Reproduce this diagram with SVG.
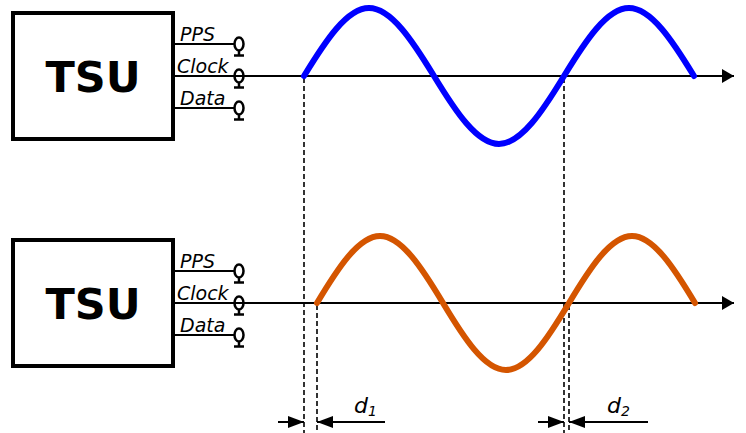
<svg xmlns="http://www.w3.org/2000/svg" width="746" height="433" viewBox="0 0 746 433">
<style>
.box{fill:#fff;stroke:#000;stroke-width:4}
.tsu{font-family:"DejaVu Sans",sans-serif;font-weight:bold;font-size:43px;text-anchor:middle;fill:#000}
.lbl{font-family:"DejaVu Sans",sans-serif;font-style:italic;font-size:19px;fill:#000}
.ln{stroke:#000;stroke-width:2;fill:none}
.term{stroke:#000;stroke-width:2.5;fill:none}
.dash{stroke:#000;stroke-width:1.6;stroke-dasharray:5,3;fill:none}
.wave{fill:none;stroke-width:6;stroke-linecap:round}
.dl{font-family:"DejaVu Sans",sans-serif;font-style:italic;font-size:22px;fill:#000}
.sub{font-size:14px}
</style>
<defs>
<marker id="arr" viewBox="0 0 12 14" refX="12" refY="7" markerWidth="12" markerHeight="14" markerUnits="userSpaceOnUse" orient="auto">
<path d="M0,0 L12,7 L0,14 Z" fill="#000"/>
</marker>
<marker id="arrd" viewBox="0 0 16 12" refX="16" refY="6" markerWidth="16" markerHeight="12" markerUnits="userSpaceOnUse" orient="auto">
<path d="M0,0 L16,6 L0,12 Z" fill="#000"/>
</marker>
<g id="terminal">
<ellipse cx="0" cy="0" rx="4.5" ry="6.5" class="term"/>
<line x1="0" y1="6.5" x2="0" y2="11.5" class="term"/>
<line x1="-5" y1="11.5" x2="5" y2="11.5" class="term"/>
</g>
</defs>

<g id="connectors">
<line x1="174" y1="44" x2="234.5" y2="44" class="ln"/>
<line x1="174" y1="76" x2="734" y2="76" class="ln" marker-end="url(#arr)"/>
<line x1="174" y1="108" x2="234.5" y2="108" class="ln"/>
<line x1="174" y1="271" x2="234.5" y2="271" class="ln"/>
<line x1="174" y1="303" x2="734" y2="303" class="ln" marker-end="url(#arr)"/>
<line x1="174" y1="335" x2="234.5" y2="335" class="ln"/>
<line x1="304" y1="78" x2="304" y2="433" class="dash"/>
<line x1="564" y1="78" x2="564" y2="433" class="dash"/>
<line x1="317" y1="305" x2="317" y2="433" class="dash"/>
<line x1="569" y1="305" x2="569" y2="433" class="dash"/>
<line x1="278" y1="422" x2="304" y2="422" class="ln" marker-end="url(#arrd)"/>
<line x1="385" y1="422" x2="317" y2="422" class="ln" marker-end="url(#arrd)"/>
<line x1="538" y1="422" x2="564" y2="422" class="ln" marker-end="url(#arrd)"/>
<line x1="648" y1="422" x2="569" y2="422" class="ln" marker-end="url(#arrd)"/>
</g>

<g id="tsu1">
<rect x="13" y="13" width="160" height="126" class="box"/>
<text x="93" y="92" class="tsu">TSU</text>
</g>
<g id="tsu1-ports">
<text x="180" y="41" class="lbl">PPS</text>
<text x="177" y="73" class="lbl">Clock</text>
<text x="180" y="105" class="lbl">Data</text>
<use href="#terminal" x="239" y="44"/>
<use href="#terminal" x="239" y="76"/>
<use href="#terminal" x="239" y="108"/>
</g>

<g id="tsu2">
<rect x="13" y="240" width="160" height="126" class="box"/>
<text x="93" y="319" class="tsu">TSU</text>
</g>
<g id="tsu2-ports">
<text x="180" y="268" class="lbl">PPS</text>
<text x="177" y="300" class="lbl">Clock</text>
<text x="180" y="332" class="lbl">Data</text>
<use href="#terminal" x="239" y="271"/>
<use href="#terminal" x="239" y="303"/>
<use href="#terminal" x="239" y="335"/>
</g>

<g id="wave1">
<path class="wave" stroke="#0000ff" d="M304,76 C325.2,41.16 346.9,8 369,8 C391.1,8 412.8,41.16 434,76 C455.2,110.84 476.9,144 499,144 C521.1,144 542.8,110.84 564,76 C585.2,41.16 606.9,8 629,8 C651.1,8 672.8,41.16 694,76"/>
</g>
<g id="wave2">
<path class="wave" stroke="#d45500" d="M317,303 C337.54,268.68 358.57,236 380,236 C401.43,236 422.46,268.68 443,303 C463.54,337.32 484.57,370 506,370 C527.43,370 548.46,337.32 569,303 C589.54,268.68 610.57,236 632,236 C653.43,236 674.46,268.68 695,303"/>
</g>

<g id="d1">
<text x="354" y="413" class="dl">d<tspan class="sub" dy="3">1</tspan></text>
</g>
<g id="d2">
<text x="607" y="413" class="dl">d<tspan class="sub" dy="3">2</tspan></text>
</g>
</svg>
